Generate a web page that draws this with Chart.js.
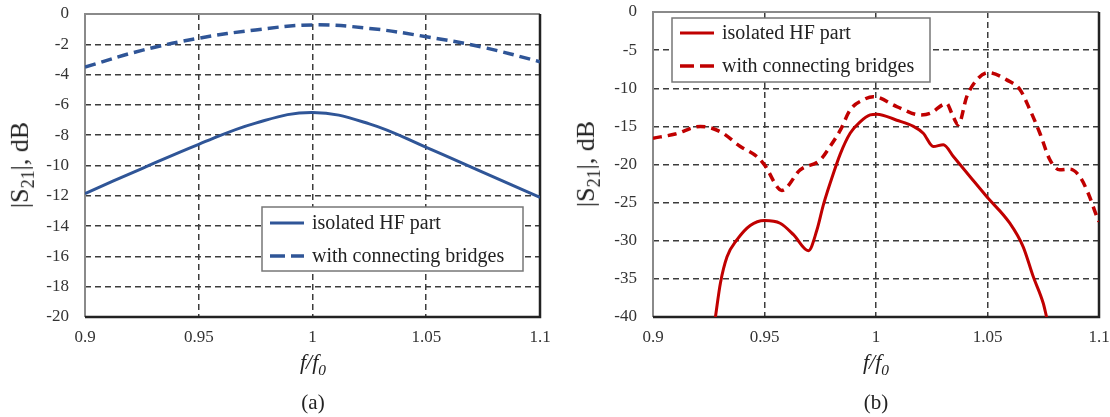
<!DOCTYPE html>
<html>
<head>
<meta charset="utf-8">
<script src="https://cdn.jsdelivr.net/npm/chart.js@4/dist/chart.umd.min.js"></script>
<style>
body { margin: 0; width: 1110px; height: 417px; background: #fff; position: relative; overflow: hidden;
       font-family: "Liberation Serif", "Times New Roman", serif; color: #222; }
canvas { position: absolute; top: 0; }
.ytitle { position: absolute; font-size: 26px; white-space: nowrap; transform: translate(-50%, -50%) rotate(-90deg); }
.xtitle { position: absolute; font-size: 22px; font-style: italic; white-space: nowrap; transform: translate(-50%, -50%); }
.cap { position: absolute; font-size: 21px; transform: translate(-50%, -50%); }
sub { font-size: 70%; }
</style>
</head>
<body>
<canvas id="chartA" width="560" height="417" style="left:0"></canvas>
<canvas id="chartB" width="560" height="417" style="left:560px"></canvas>

<div class="ytitle" style="left:22px; top:165px">|S<sub>21</sub>|, dB</div>
<div class="ytitle" style="left:588px; top:164px">|S<sub>21</sub>|, dB</div>
<div class="xtitle" style="left:313px; top:364px">f/f<sub>0</sub></div>
<div class="xtitle" style="left:876px; top:364px">f/f<sub>0</sub></div>
<div class="cap" style="left:313px; top:402px">(a)</div>
<div class="cap" style="left:876px; top:402px">(b)</div>

<script>
// x ticks, shared by both plots
const freqTicks = [0.9, 0.95, 1, 1.05, 1.1];

// (a) blue curves
const aIsoF = [0.9, 0.925, 0.95, 0.975, 1.0, 1.025, 1.05, 1.075, 1.1];
const aIsoS = [-11.85, -10.2, -8.6, -7.2, -6.5, -7.25, -8.8, -10.45, -12.1];
const aBrF = [0.9, 0.925, 0.95, 0.975, 1.0, 1.025, 1.05, 1.075, 1.1];
const aBrS = [-3.5, -2.4, -1.6, -1.05, -0.72, -0.95, -1.5, -2.2, -3.15];

// (b) red curves
const bIsoF = [0.928, 0.9302, 0.9332, 0.9376, 0.9436, 0.95, 0.957, 0.963, 0.9697, 0.9735, 0.9764, 0.9795,
               0.984, 0.9884, 0.9929, 0.9974, 1.0004, 1.0093, 1.0168, 1.0212, 1.0257, 1.0302, 1.0347,
               1.0422, 1.0496, 1.06, 1.066, 1.0705, 1.075, 1.0765];
const bIsoS = [-40, -35.6, -32.1, -29.9, -28.0, -27.35, -27.7, -29.2, -31.3, -28.6, -25.3, -22.4,
               -18.6, -15.9, -14.4, -13.5, -13.4, -14.2, -15.0, -15.9, -17.65, -17.4, -18.95,
               -21.6, -24.2, -27.7, -30.8, -34.7, -38.2, -40];
const bBrF = [0.9, 0.91, 0.9212, 0.9302, 0.939, 0.9466, 0.95, 0.9578, 0.966, 0.975, 0.9795, 0.984,
              0.9885, 0.9944, 0.9988, 1.0093, 1.0198, 1.0242, 1.0317, 1.034, 1.0369, 1.0407, 1.0452,
              1.0504, 1.0586, 1.0646, 1.069, 1.0735, 1.078, 1.0824, 1.0869, 1.0914, 1.0952, 1.099, 1.1];
const bBrS = [-16.55, -16.0, -15.0, -15.7, -17.6, -18.96, -20.05, -23.4, -20.7, -19.4, -17.6, -15.5,
              -12.8, -11.5, -11.1, -12.4, -13.5, -13.3, -12.0, -13.3, -14.8, -11.1, -8.9,
              -7.95, -8.9, -10.2, -12.8, -15.9, -19.4, -20.7, -20.6, -21.6, -23.8, -26.8, -27.5];

const labelIso = "isolated HF part";
const labelBr = "with connecting bridges";

const serif = '"Liberation Serif", "Times New Roman", serif';

function pts(xs, ys) {
    return xs.map((x, i) => ({ x: x, y: ys[i] }));
}

// frame round the plot area
const framePlugin = {
    id: 'frame',
    beforeDatasetsDraw(chart) {
        const a = chart.chartArea;
        const ctx = chart.ctx;
        ctx.save();
        ctx.lineWidth = 2;
        ctx.strokeStyle = '#8a8a8a';
        ctx.beginPath();
        ctx.moveTo(a.left, a.bottom); ctx.lineTo(a.left, a.top); ctx.lineTo(a.right, a.top);
        ctx.stroke();
        ctx.lineWidth = 2.5;
        ctx.strokeStyle = '#222';
        ctx.beginPath();
        ctx.moveTo(a.left, a.bottom); ctx.lineTo(a.right, a.bottom); ctx.lineTo(a.right, a.top);
        ctx.stroke();
        ctx.restore();
    }
};

// boxed legend inside the plot
const boxLegend = {
    id: 'boxLegend',
    afterDraw(chart, args, opts) {
        const ctx = chart.ctx;
        ctx.save();
        ctx.fillStyle = '#fff';
        ctx.fillRect(opts.x, opts.y, opts.w, opts.h);
        ctx.strokeStyle = '#777';
        ctx.lineWidth = 1.5;
        ctx.strokeRect(opts.x, opts.y, opts.w, opts.h);
        chart.data.datasets.forEach((ds, i) => {
            const y = opts.y + opts.rowTop + i * opts.rowGap;
            ctx.strokeStyle = ds.borderColor;
            ctx.lineWidth = ds.borderWidth;
            ctx.setLineDash(ds.borderDash ? opts.dash : []);
            ctx.beginPath();
            ctx.moveTo(opts.x + 8, y);
            ctx.lineTo(opts.x + 8 + opts.lineLen, y);
            ctx.stroke();
            ctx.setLineDash([]);
            ctx.fillStyle = '#222';
            ctx.font = '20px ' + serif;
            ctx.textBaseline = 'middle';
            ctx.fillText(ds.label, opts.x + opts.textX, y + 1);
        });
        ctx.restore();
    }
};

function makeChart(id, datasets, yMin, yStep, yWidth, pad, legendBox) {
    const ctx = document.getElementById(id).getContext('2d');
    return new Chart(ctx, {
        type: 'line',
        data: { datasets: datasets },
        plugins: [framePlugin, boxLegend],
        options: {
            responsive: false,
            animation: false,
            layout: { padding: pad },
            elements: { point: { radius: 0 } },
            plugins: {
                legend: { display: false },
                tooltip: { enabled: false },
                boxLegend: legendBox
            },
            scales: {
                x: {
                    type: 'linear',
                    min: 0.9,
                    max: 1.1,
                    afterBuildTicks: (s) => { s.ticks = freqTicks.map(v => ({ value: v })); },
                    afterFit: (s) => { s.height = 100; s.paddingLeft = 0; s.paddingRight = 0; },
                    ticks: {
                        padding: 10,
                        color: '#333',
                        font: { family: serif, size: 17 },
                        callback: (v) => String(v)
                    },
                    grid: { color: '#3c3c3c', lineWidth: 1.5, drawTicks: false },
                    border: { display: false, dash: [6, 4] }
                },
                y: {
                    min: yMin,
                    max: 0,
                    afterFit: (s) => { s.width = yWidth; s.paddingTop = 0; s.paddingBottom = 0; },
                    ticks: {
                        stepSize: yStep,
                        padding: 16,
                        color: '#333',
                        font: { family: serif, size: 17 }
                    },
                    grid: { color: '#3c3c3c', lineWidth: 1.5, drawTicks: false },
                    border: { display: false, dash: [6, 4] }
                }
            }
        }
    });
}

makeChart('chartA', [
    { label: labelIso, data: pts(aIsoF, aIsoS), borderColor: '#2f5597', borderWidth: 3, tension: 0.4, fill: false },
    { label: labelBr, data: pts(aBrF, aBrS), borderColor: '#2f5597', borderWidth: 3.5, borderDash: [11, 6], tension: 0.4, fill: false }
], -20, 2, 85, { top: 14, right: 20, left: 0, bottom: 0 },
   { x: 262, y: 207, w: 261, h: 64, rowTop: 16, rowGap: 33, lineLen: 34, textX: 50, dash: [15, 6] });

makeChart('chartB', [
    { label: labelIso, data: pts(bIsoF, bIsoS), borderColor: '#c00000', borderWidth: 3, cubicInterpolationMode: 'monotone', fill: false },
    { label: labelBr, data: pts(bBrF, bBrS), borderColor: '#c00000', borderWidth: 3.5, borderDash: [9, 6], cubicInterpolationMode: 'monotone', fill: false }
], -40, 5, 93, { top: 12, right: 21, left: 0, bottom: 0 },
   { x: 112, y: 18, w: 258, h: 64, rowTop: 15, rowGap: 33, lineLen: 34, textX: 50, dash: [14, 6] });
</script>
</body>
</html>
